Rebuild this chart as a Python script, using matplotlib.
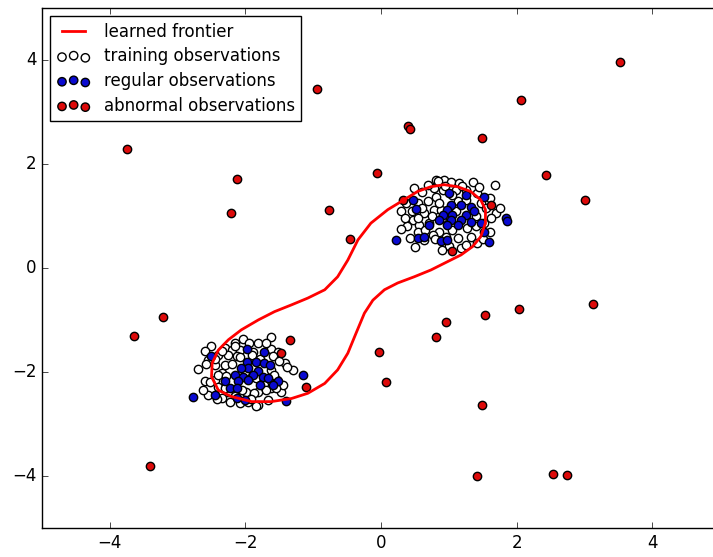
import matplotlib
matplotlib.use("Agg")
import matplotlib.pyplot as plt
import numpy as np

plt.style.use("classic")

# learned frontier (closed curve)
frontier_x = [0.34, 0.54, 0.735, 0.93, 1.13, 1.32, 1.47, 1.54, 1.54, 1.47, 1.35, 1.18, 0.98,
              0.735, 0.49, 0.245, 0.05, -0.12, -0.245, -0.37, -0.49, -0.64, -0.83, -1.08,
              -1.32, -1.62, -1.91, -2.21, -2.40, -2.50, -2.49, -2.40, -2.25, -2.06, -1.81,
              -1.57, -1.32, -1.08, -0.83, -0.64, -0.49, -0.34, -0.15, 0.10, 0.34]
frontier_y = [1.31, 1.47, 1.56, 1.60, 1.56, 1.47, 1.31, 1.12, 0.86, 0.60, 0.41, 0.25, 0.12,
              -0.04, -0.17, -0.29, -0.42, -0.62, -0.87, -1.26, -1.64, -1.96, -2.22, -2.41,
              -2.51, -2.57, -2.57, -2.47, -2.35, -2.09, -1.83, -1.58, -1.38, -1.19, -1.00,
              -0.84, -0.71, -0.58, -0.42, -0.17, 0.15, 0.54, 0.86, 1.12, 1.31]

# training observations (white)
train_x = [-1.63, -2.03, -2.16, -1.94, -1.82, -2.51, -1.62, -2.30, -2.20, -2.08, -1.89, -1.52,
           -2.40, -2.25, -2.13, -1.41, -2.55, -2.45, -2.30, -2.35, -1.30, -2.60, -2.45, -1.62,
           -1.54, -2.40, -2.25, -2.55, -1.72, -1.62, -1.81, -1.99, -2.16, -2.35, -2.08, -1.81,
           -1.84, -1.67, -1.96, -1.47,
           -2.35, -2.45, -2.20, -2.08, -1.90, -1.78, -1.60, -1.50, -2.40, -2.28, -2.00, -1.85,
           -1.58, -1.45, -2.52, -2.30, -2.05, -1.88, -1.70, -1.55, -2.42, -2.22, -1.92, -2.62,
           -2.70, -2.58, -1.38, -2.15, -1.70, -2.60,
           0.81, 0.93, 1.03, 1.15, 1.35, 0.49, 0.78, 0.91, 1.10, 1.25, 1.42, 0.37, 0.54, 0.69,
           0.81, 1.47, 1.69, 0.64, 0.78, 0.47, 0.39, 0.56, 0.71, 0.54, 0.42, 0.86, 0.76, 1.05,
           1.27, 1.40, 1.13, 1.18, 0.96, 1.32, 1.52, 1.42, 0.64, 0.88, 1.13, 0.84, 1.68,
           0.60, 0.70, 0.95, 1.20, 1.45, 1.60, 1.55, 1.62, 1.75, 0.30, 0.45, 0.60, 0.75, 0.90,
           1.10, 1.25, 1.40, 0.55, 0.30, 0.65, 0.80, 1.00, 1.25, 1.50, 0.50, 0.90, 1.60, 0.35,
           1.05, 0.85]
train_y = [-1.32, -1.36, -1.45, -1.45, -1.45, -1.50, -1.56, -1.54, -1.58, -1.58, -1.61, -1.61,
           -1.67, -1.67, -1.70, -1.82, -1.77, -1.86, -1.86, -2.02, -1.96, -2.18, -2.15, -1.96,
           -2.15, -2.28, -2.38, -2.44, -2.25, -2.31, -2.38, -2.38, -2.47, -2.50, -2.60, -2.63,
           -2.66, -2.54, -2.57, -2.38,
           -1.60, -1.75, -1.85, -1.72, -1.68, -1.75, -1.70, -1.78, -2.05, -2.08, -2.00, -2.12,
           -2.05, -2.25, -2.20, -2.30, -2.35, -2.40, -2.35, -2.30, -2.52, -2.58, -2.52, -2.35,
           -1.95, -1.85, -1.90, -1.50, -1.45, -1.60,
           1.69, 1.69, 1.66, 1.63, 1.66, 1.53, 1.53, 1.50, 1.50, 1.50, 1.44, 1.25, 1.25, 1.28,
           1.37, 1.25, 1.05, 1.05, 1.12, 0.93, 0.80, 0.83, 0.86, 0.70, 0.57, 0.70, 0.64, 0.73,
           0.76, 0.80, 0.57, 0.38, 0.60, 0.60, 0.86, 0.48, 0.54, 1.12, 1.28, 1.67, 1.60,
           1.45, 1.60, 1.58, 1.58, 1.55, 1.35, 1.15, 0.95, 1.15, 1.10, 1.10, 1.15, 1.00, 0.95,
           1.10, 1.30, 1.00, 0.95, 0.75, 0.72, 0.55, 0.42, 0.45, 0.55, 0.40, 0.35, 0.70, 0.95,
           1.40, 1.25]

# regular observations (blue)
regular_x = [-1.98, -1.72, -2.51, -1.98, -1.84, -1.72, -1.64, -1.96, -2.06, -1.81, -2.16,
             -2.03, -1.89, -1.74, -1.67, -2.30, -2.11, -1.96, -1.52, -1.15, -2.23, -2.13,
             -1.79, -1.59, -2.45, -2.77, -1.40, -2.01, -2.13,
             1.00, 1.25, 1.52, 0.47, 0.51, 1.03, 1.18, 1.32, 0.98, 0.91, 1.05, 1.25, 1.37,
             0.86, 1.03, 1.18, 1.32, 0.71, 0.98, 1.13, 1.47, 1.84, 1.86, 0.54, 0.64, 0.88,
             0.98, 1.52, 0.22, 1.59]
regular_y = [-1.56, -1.61, -1.70, -1.80, -1.80, -1.83, -1.86, -1.93, -1.93, -1.99, -2.06,
             -2.09, -2.06, -2.09, -2.12, -2.18, -2.18, -2.15, -2.18, -2.06, -2.31, -2.31,
             -2.25, -2.25, -2.44, -2.48, -2.56, -2.54, -2.50,
             1.44, 1.40, 1.37, 1.30, 1.13, 1.21, 1.21, 1.18, 1.12, 1.02, 1.02, 1.02, 1.09,
             0.93, 0.93, 0.93, 0.89, 0.83, 0.83, 0.83, 0.86, 0.96, 0.91, 0.57, 0.60, 0.51,
             0.54, 0.70, 0.53, 0.49]

# abnormal observations (red)
abnormal_x = [3.53, -0.94, 2.06, 0.40, 0.43, 1.49, -3.74, -2.12, -0.06, 2.44, 3.01, -2.21,
              -0.76, -0.46, -3.65, -3.22, 3.12, 2.03, 1.53, 0.96, 0.81, -0.03, 0.07, -1.34,
              -1.10, -3.41, 1.49, 1.41, 2.54, 2.74, 0.32, 1.62, 1.04, -1.47]
abnormal_y = [3.96, 3.44, 3.23, 2.73, 2.67, 2.50, 2.29, 1.71, 1.83, 1.79, 1.31, 1.06,
              1.12, 0.56, -1.31, -0.94, -0.69, -0.79, -0.90, -1.04, -1.33, -1.62, -2.19, -1.38,
              -2.29, -3.81, -2.63, -4.00, -3.96, -3.98, 1.31, 1.21, 0.33, -1.63]

fig = plt.figure(figsize=(7.13, 5.57), dpi=100, facecolor="white")
ax = fig.add_axes([0.0589, 0.052, 0.951, 0.934])

line, = ax.plot(frontier_x, frontier_y, color="red", linewidth=2)
s = 36
b1 = ax.scatter(train_x, train_y, c="white", s=s, edgecolors="black")
b2 = ax.scatter(regular_x, regular_y, c="#0a0ad0", s=s, edgecolors="black")
c = ax.scatter(abnormal_x, abnormal_y, c="#dd0a0a", s=s, edgecolors="black")

ax.set_xlim(-5, 5)
ax.set_ylim(-5, 5)
ax.set_xticks([-4, -2, 0, 2, 4])
ax.set_yticks([-4, -2, 0, 2, 4])
ax.tick_params(labelsize=12)

ax.legend([line, b1, b2, c],
          ["learned frontier", "training observations",
           "regular observations", "abnormal observations"],
          loc="upper left", fontsize=12, labelspacing=0.4)

fig.savefig("out.png", dpi=100, facecolor="white")
